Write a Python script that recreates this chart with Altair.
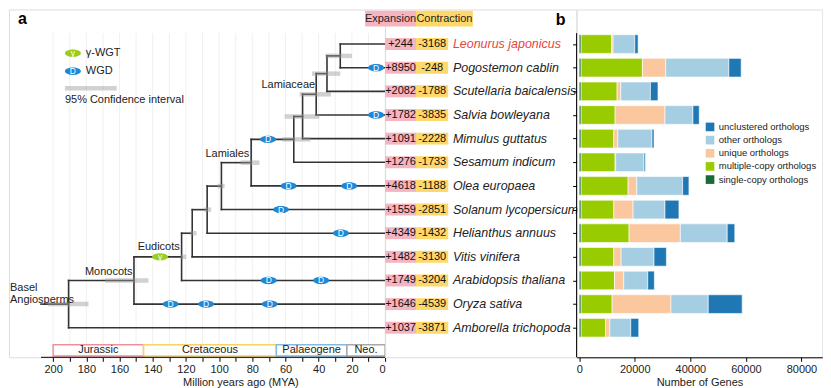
import altair as alt
import pandas as pd

FONT = "Liberation Sans"
TXT = "#222222"

# ---------------- data ----------------
species = ["Leonurus japonicus", "Pogostemon cablin", "Scutellaria baicalensis",
           "Salvia bowleyana", "Mimulus guttatus", "Sesamum indicum", "Olea europaea",
           "Solanum lycopersicum", "Helianthus annuus", "Vitis vinifera",
           "Arabidopsis thaliana", "Oryza sativa", "Amborella trichopoda"]
expansion = [244, 8950, 2082, 1782, 1091, 1276, 4618, 1559, 4349, 1482, 1749, 1646, 1037]
contraction = [3168, 248, 1788, 3835, 2228, 1733, 1188, 2851, 1432, 3130, 3204, 4539, 3871]

# internal nodes of the dated tree (MYA)
node_names = ["A", "B", "C", "D", "E", "F", "G", "H", "I", "J", "K", "R"]
node_times = [27.0, 35.0, 41.5, 49.7, 55.0, 80.7, 98.6, 107.2, 116.2, 122.6, 151.3, 190.7]
node_child1 = ["Leonurus japonicus", "A", "B", "C", "D", "E", "F", "G", "H", "I", "J", "K"]
node_child2 = ["Pogostemon cablin", "Scutellaria baicalensis", "Salvia bowleyana",
               "Mimulus guttatus", "Sesamum indicum", "Olea europaea", "Solanum lycopersicum",
               "Helianthus annuus", "Vitis vinifera", "Arabidopsis thaliana", "Oryza sativa",
               "Amborella trichopoda"]
ci_low = [20.0, 27.0, 32.6, 39.7, 45.0, 75.7, 96.7, 104.8, 113.6, 119.8, 142.6, 178.7]
ci_high = [36.0, 44.0, 51.5, 60.5, 62.0, 87.0, 101.0, 109.0, 117.6, 123.2, 168.7, 203.0]
root_origin = 207.3

# polyploidy events on branches
wgd_branch = ["Pogostemon cablin", "Salvia bowleyana", "E", "Olea europaea", "Olea europaea",
              "Solanum lycopersicum", "Helianthus annuus", "Arabidopsis thaliana",
              "Arabidopsis thaliana", "Oryza sativa", "Oryza sativa", "Oryza sativa"]
wgd_time = [5.4, 5.4, 70.5, 58.1, 21.6, 62.7, 26.6, 70.1, 38.5, 129.2, 107.8, 69.5]
wgt_branch = ["J"]
wgt_time = [135.6]

clade_names = ["Lamiaceae", "Lamiales", "Eudicots", "Monocots"]
periods = ["Jurassic", "Cretaceous", "Palaeogene", "Neo."]
period_start = [200.0, 145.5, 65.5, 23.0]
period_end = [145.5, 65.5, 23.0, 0.0]

bar_categories = ["single-copy orthologs", "multiple-copy orthologs", "unique orthologs",
                  "other orthologs", "unclustered orthologs"]
single_copy = [700, 700, 700, 700, 700, 700, 700, 700, 700, 700, 700, 700, 700]
multiple_copy = [10930, 22060, 12940, 12230, 11760, 12230, 16900, 11760, 17250, 11760, 12000, 11150, 8780]
unique_orth = [570, 8370, 1330, 17940, 1430, 200, 3120, 6930, 18450, 2620, 3340, 21180, 1540]
other_orth = [7800, 22720, 10660, 10060, 12320, 10210, 16510, 11480, 16870, 11850, 8620, 13420, 7540]
unclustered = [1200, 4450, 2730, 2280, 720, 480, 2270, 5030, 2730, 4450, 2390, 12210, 2870]

# ---------------- build tables ----------------
row_of = {s: i for i, s in enumerate(species)}
ypos = dict((s, float(i)) for s, i in row_of.items())
tpos = dict((s, 0.0) for s in species)
for n, t, c1, c2 in zip(node_names, node_times, node_child1, node_child2):
    ypos[n] = (ypos[c1] + ypos[c2]) / 2
    tpos[n] = t

edges = []
for n, c1, c2 in zip(node_names, node_child1, node_child2):
    for c in (c1, c2):
        edges.append(dict(x=tpos[n], x2=tpos[c], y=ypos[c], y2=ypos[c]))
    edges.append(dict(x=tpos[n], x2=tpos[n], y=ypos[c1], y2=ypos[c2]))
edges.append(dict(x=root_origin, x2=tpos["R"], y=ypos["R"], y2=ypos["R"]))
edges_df = pd.DataFrame(edges)

ci_df = pd.DataFrame(dict(lo=ci_low, hi=ci_high, y=[ypos[n] for n in node_names]))
wgd_df = pd.DataFrame(dict(x=wgd_time, y=[ypos[b] for b in wgd_branch], label=["D"] * len(wgd_time)))
wgt_df = pd.DataFrame(dict(x=wgt_time, y=[ypos[b] for b in wgt_branch], label=["\u03b3"] * len(wgt_time)))

clade_df = pd.DataFrame(dict(name=clade_names, x=[58.3, 95.0, 136.4, 166.5],
                             y=[1.74, 4.65, 8.58, 9.66]))
basal_df = pd.DataFrame(dict(name=["Basel", "Angiosperms"], x=[226.0, 226.0], y=[10.31, 10.82]))
period_df = pd.DataFrame(dict(name=periods, s=period_start, e=period_end))
grid_df = pd.DataFrame(dict(x=list(range(200, -1, -10))))
axisline_df = pd.DataFrame(dict(x=[root_origin], x2=[0.0], y=[13.25]))

leg_wgt = pd.DataFrame(dict(x=[188.1], y=[0.39], label=["\u03b3"], text=["\u03b3-WGT"], tx=[180.3]))
leg_wgd = pd.DataFrame(dict(x=[188.1], y=[1.15], label=["D"], text=["WGD"], tx=[180.3]))
leg_ci = pd.DataFrame(dict(lo=[192.9], hi=[161.7], y=[1.87], text=["95% Confidence interval"]))

lab_df = pd.DataFrame(dict(species=species, row=list(range(len(species))),
                           exp=["+" + str(v) for v in expansion],
                           con=["-" + str(v) for v in contraction]))

bar_rows = []
for i, s in enumerate(species):
    vals = [single_copy[i], multiple_copy[i], unique_orth[i], other_orth[i], unclustered[i]]
    for k, (c, v) in enumerate(zip(bar_categories, vals)):
        bar_rows.append(dict(species=s, row=i, category=c, value=v, order=k))
bar_df = pd.DataFrame(bar_rows)

# ---------------- scales ----------------
H = 348.7
yscale = alt.Scale(domain=[-1.464, 13.25], reverse=True, nice=False, zero=False)
tx_scale = alt.Scale(domain=[226.6, 0], nice=False, zero=False)
tree_axis = alt.Axis(values=list(range(200, -1, -10)),
                     labelExpr="datum.value % 20 == 0 ? datum.label : ''",
                     domain=False, grid=False, ticks=True, tickColor="#000", tickSize=4,
                     labelFontSize=11, labelColor=TXT, labelPadding=2,
                     title="Million years ago (MYA)", titleFontSize=11, titleFontWeight="normal",
                     titleColor=TXT, titleX=232, titleY=25, titleBaseline="middle")


def TX(f):
    return alt.X(f, type="quantitative", scale=tx_scale, axis=tree_axis)


def YN(f):
    return alt.Y(f, type="quantitative", scale=yscale, axis=None)


BLUE = "#1e88d8"
GREEN = "#9ccc1e"
ellipse = "M-1,0A1,0.46,0,1,1,1,0A1,0.46,0,1,1,-1,0Z"


def event_layers(df, col):
    pts = alt.Chart(df).mark_point(shape=ellipse, size=256, filled=True, opacity=1,
                                   color=col, strokeWidth=0).encode(x=TX("x"), y=YN("y"))
    txt = alt.Chart(df).mark_text(color="white", fontSize=8.5, baseline="middle").encode(
        x=TX("x"), y=YN("y"), text="label:N")
    return [pts, txt]


# ---------------- panel a: tree ----------------
grid = alt.Chart(grid_df).mark_rule(color="#ececec", strokeWidth=0.8).encode(
    x=TX("x"), y=alt.datum(-0.464, type="quantitative", scale=yscale, axis=None),
    y2=alt.datum(13.25))
period_layers = []
for name, col in zip(periods, ["#ef8f9a", "#f7d264", "#86b9e0", "#a8a8a8"]):
    period_layers.append(
        alt.Chart(period_df).transform_filter(alt.datum.name == name).transform_calculate(
            y1="12.72", y2="13.2").mark_rect(fill="white", stroke=col, strokeWidth=1.5).encode(
            x=TX("s"), x2="e:Q", y=YN("y1"), y2="y2:Q"))
periods_txt = alt.Chart(period_df).transform_calculate(
    m="(datum.s + datum.e) / 2", yy="12.96").mark_text(
    fontSize=11, color=TXT, baseline="middle").encode(x=TX("m"), y=YN("yy"), text="name:N")
axis_line = alt.Chart(axisline_df).mark_rule(color="#000", strokeWidth=1).encode(
    x=TX("x"), x2="x2:Q", y=YN("y"))
branches = alt.Chart(edges_df).mark_rule(color="#333333", strokeWidth=1.6, strokeCap="square").encode(
    x=TX("x"), x2="x2:Q", y=YN("y"), y2="y2:Q")
ci_top = alt.Chart(ci_df).mark_rule(color="#999999", opacity=0.45, strokeWidth=4.5).encode(
    x=TX("lo"), x2="hi:Q", y=YN("y"))
clades = alt.Chart(clade_df).mark_text(fontSize=11, color=TXT, baseline="middle").encode(
    x=TX("x"), y=YN("y"), text="name:N")
basal = alt.Chart(basal_df).mark_text(fontSize=11, color=TXT, baseline="middle", align="left").encode(
    x=TX("x"), y=YN("y"), text="name:N")
leg_text = alt.Chart(pd.concat([leg_wgt, leg_wgd])).mark_text(
    color=TXT, fontSize=11, baseline="middle", align="left").encode(
    x=TX("tx"), y=YN("y"), text="text:N")
leg2 = alt.Chart(leg_ci).mark_rule(color="#999999", opacity=0.45, strokeWidth=4.5).encode(
    x=TX("lo"), x2="hi:Q", y=YN("y"))
leg2l = alt.Chart(leg_ci).transform_calculate(yt="datum.y + 0.51").mark_text(
    color=TXT, fontSize=11, baseline="middle", align="left").encode(
    x=TX("lo"), y=YN("yt"), text="text:N")
title_a = alt.Chart(pd.DataFrame(dict(t=["a"]))).mark_text(
    fontSize=16, fontWeight="bold", color="#000", align="left", baseline="middle").encode(
    x=alt.value(9), y=alt.value(10), text="t:N")

tree = alt.layer(
    grid, *period_layers, periods_txt, axis_line, branches, ci_top,
    *event_layers(wgd_df, BLUE), *event_layers(wgt_df, GREEN),
    clades, basal,
    *event_layers(leg_wgt, GREEN), *event_layers(leg_wgd, BLUE), leg_text, leg2, leg2l, title_a
).properties(width=377, height=H)

# ---------------- middle: expansion / contraction + names ----------------
head = pd.DataFrame(dict(a=["Expansion"], b=["Contraction"], y1=[-1.409], y2=[-0.747], yc=[-1.078]))
PINK = "#f4b5c0"
YEL = "#fed86a"
h1 = alt.Chart(head).mark_rect(color=PINK).encode(
    x=alt.value(-20), x2=alt.value(31), y=YN("y1"), y2="y2:Q")
h2 = alt.Chart(head).mark_rect(color=YEL).encode(
    x=alt.value(31), x2=alt.value(88), y=YN("y1"), y2="y2:Q")
h1t = alt.Chart(head).mark_text(fontSize=11, color=TXT, baseline="middle").encode(
    x=alt.value(5.5), y=YN("yc"), text="a:N")
h2t = alt.Chart(head).mark_text(fontSize=11, color=TXT, baseline="middle").encode(
    x=alt.value(59.5), y=YN("yc"), text="b:N")
labbase = alt.Chart(lab_df).transform_calculate(y1="datum.row - 0.253", y2="datum.row + 0.253")
r1 = labbase.mark_rect(color=PINK).encode(x=alt.value(0), x2=alt.value(31), y=YN("y1"), y2="y2:Q")
r2 = labbase.mark_rect(color=YEL).encode(x=alt.value(31), x2=alt.value(63.3), y=YN("y1"), y2="y2:Q")
t1 = alt.Chart(lab_df).mark_text(fontSize=11, color="#111", baseline="middle").encode(
    x=alt.value(15.5), y=YN("row"), text="exp:N")
t2 = alt.Chart(lab_df).mark_text(fontSize=11, color="#111", baseline="middle").encode(
    x=alt.value(47.2), y=YN("row"), text="con:N")
names_black = alt.Chart(lab_df).transform_filter(alt.datum.row > 0).mark_text(
    fontSize=12.5, fontStyle="italic", baseline="middle", align="left", color=TXT).encode(
    x=alt.value(68), y=YN("row"), text="species:N")
names_red = alt.Chart(lab_df).transform_filter(alt.datum.row == 0).mark_text(
    fontSize=12.5, fontStyle="italic", baseline="middle", align="left", color="#e8443d").encode(
    x=alt.value(68), y=YN("row"), text="species:N")
title_b = alt.Chart(pd.DataFrame(dict(t=["b"]))).mark_text(
    fontSize=16, fontWeight="bold", color="#000", align="left", baseline="middle").encode(
    x=alt.value(171), y=alt.value(10.5), text="t:N")
labels = alt.layer(h1, h2, h1t, h2t, r1, r2, t1, t2, names_black, names_red, title_b).properties(
    width=191.7, height=H)

# ---------------- panel b: stacked bars ----------------
bar_yaxis = alt.Axis(values=list(range(13)), labels=False, domain=False, grid=False, ticks=True,
                     tickSize=4, tickColor="#000", title=None)
bx_scale = alt.Scale(domain=[-934, 87500], nice=False, zero=False)
bar_xaxis = alt.Axis(values=[0, 20000, 40000, 60000, 80000], format="d", domain=True,
                     domainColor="#000", tickColor="#000", tickSize=4, labelFontSize=11,
                     labelColor=TXT, labelPadding=2, grid=False, title="Number of Genes",
                     titleFontSize=11, titleFontWeight="normal", titleColor=TXT,
                     titleY=25, titleBaseline="middle")
legend_order = ["unclustered orthologs", "other orthologs", "unique orthologs",
                "multiple-copy orthologs", "single-copy orthologs"]
legend_colors = ["#1f78b4", "#a6cee3", "#fbc79f", "#99cc00", "#1a6b33"]

bars = alt.Chart(bar_df).transform_stack(
    stack="value", groupby=["species"], as_=["x0", "x1"],
    sort=[alt.SortField("order", order="ascending")]).transform_calculate(
    y1="datum.row - 0.395", y2="datum.row + 0.395").mark_rect(stroke="white", strokeWidth=0.6).encode(
    x=alt.X("x0:Q", scale=bx_scale, axis=bar_xaxis), x2="x1:Q",
    y=alt.Y("y1:Q", scale=yscale, axis=bar_yaxis), y2="y2:Q",
    color=alt.Color("category:N", scale=alt.Scale(domain=legend_order, range=legend_colors),
                    legend=alt.Legend(title=None, orient="none", legendX=698, legendY=113,
                                      symbolType="square", symbolSize=75, symbolStrokeWidth=0,
                                      labelFontSize=9.5, labelOffset=4, labelColor=TXT,
                                      rowPadding=2.2, padding=0, labelLimit=200)))
yline = alt.Chart(pd.DataFrame(dict(a=[-0.464], b=[13.25]))).mark_rule(color="#000", strokeWidth=1).encode(
    x=alt.value(0), y=alt.Y("a:Q", scale=yscale, axis=bar_yaxis), y2="b:Q")
barpanel = alt.layer(bars, yline).properties(width=246.3, height=H)

chart = alt.hconcat(tree, labels, barpanel, spacing=0, bounds="flush").properties(
    padding=0).configure_view(stroke=None).configure(font=FONT)

chart.save("out.html", embed_options={"renderer": "svg", "actions": False})
